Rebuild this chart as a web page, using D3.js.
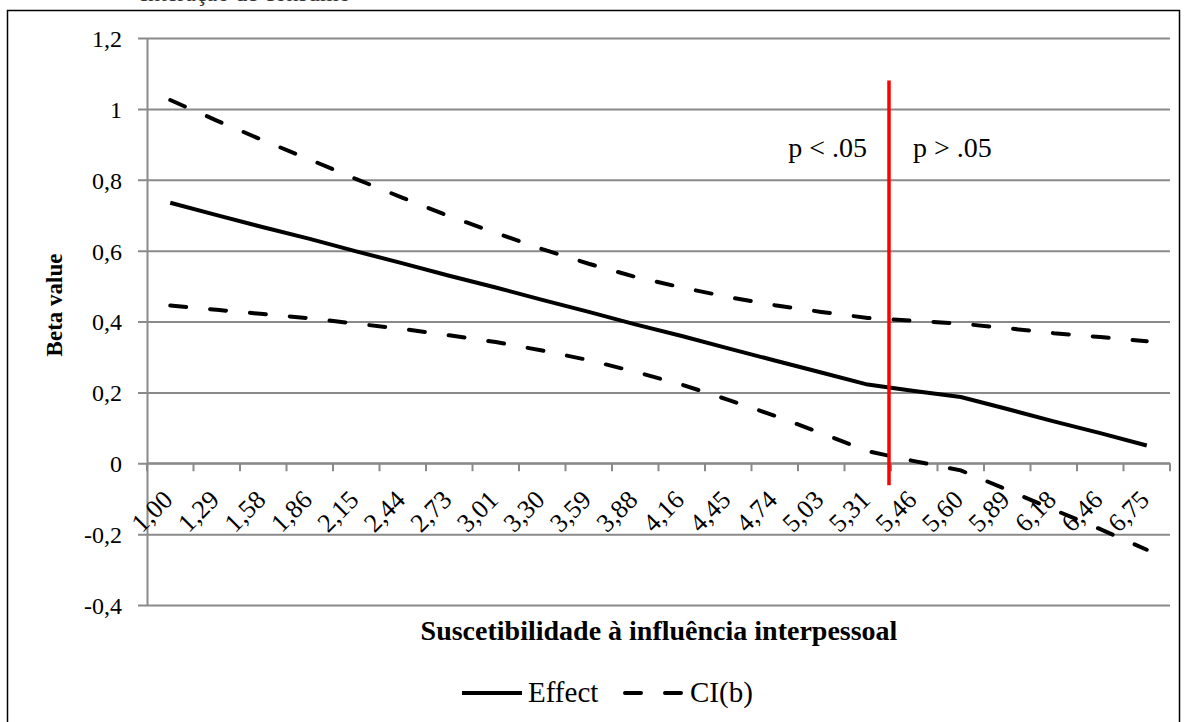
<!DOCTYPE html>
<meta charset="utf-8">
<script src="https://d3js.org/d3.v7.min.js"></script>
<style>
  body { margin: 0; background: #fff; }
  text { font-family: "Liberation Serif", "Times New Roman", serif; }
</style>
<div id="chart"></div>
<script>
// data
var categories = ["1,00","1,29","1,58","1,86","2,15","2,44","2,73","3,01","3,30","3,59","3,88",
                  "4,16","4,45","4,74","5,03","5,31","5,46","5,60","5,89","6,18","6,46","6,75"];
var effect  = [0.735,0.700,0.666,0.633,0.598,0.564,0.529,0.496,0.461,0.427,0.392,
               0.359,0.324,0.290,0.256,0.222,0.204,0.187,0.153,0.118,0.085,0.050];
var ciUpper = [1.025,0.967,0.911,0.857,0.802,0.749,0.697,0.650,0.604,0.563,0.526,
               0.496,0.469,0.446,0.427,0.410,0.402,0.394,0.381,0.367,0.356,0.344];
var ciLower = [0.445,0.433,0.421,0.409,0.394,0.379,0.361,0.342,0.318,0.291,0.258,
               0.222,0.179,0.134,0.085,0.034,0.006,-0.020,-0.075,-0.131,-0.186,-0.244];
var yTicks = [-0.4,-0.2,0,0.2,0.4,0.6,0.8,1,1.2];
var cutCategory = "5,46";          // red line sits at the start of this category
var cutRange = [1.08, -0.062];

var W = 1187, H = 722;
var margin = {top: 38, left: 147, right: 17, bottom: 117};

var svg = d3.select("#chart").append("svg")
    .attr("width", W).attr("height", H);

// outer frame
svg.append("rect")
    .attr("x", 7.5).attr("y", 10.5)
    .attr("width", 1172).attr("height", 730)
    .attr("fill", "none").attr("stroke", "#000").attr("stroke-width", 1.5);

// caption cut off at the top
svg.append("text")
    .attr("x", 140).attr("y", 1)
    .attr("font-size", 24).attr("fill", "#333")
    .text("Interação de consumo");

var x = d3.scaleBand()
    .domain(categories)
    .range([margin.left, W - margin.right])
    .padding(0);

var y = d3.scaleLinear()
    .domain([-0.4, 1.2])
    .range([H - margin.bottom, margin.top]);

var fmt = function(d) { return String(+d.toFixed(1)).replace(".", ","); };

// gridlines + y axis
svg.append("g")
    .attr("transform", "translate(" + margin.left + ",0)")
    .call(d3.axisLeft(y).tickValues(yTicks).tickSize(-(W - margin.right - margin.left)).tickSizeOuter(0).tickFormat(fmt))
    .call(function(g) {
      g.select(".domain").attr("stroke", "#8a8a8a").attr("stroke-width", 2);
      g.selectAll(".tick line").attr("stroke", "#8a8a8a").attr("stroke-width", 2)
        .attr("x1", -9);
      g.selectAll(".tick text")
        .attr("x", -25).attr("dy", "0.35em")
        .attr("font-size", 24).attr("fill", "#000")
        .style("font-family", "Liberation Serif");
    });

// x axis at 0
var xAxis = svg.append("g")
    .attr("transform", "translate(0," + y(0) + ")");
xAxis.append("line")
    .attr("x1", margin.left).attr("x2", W - margin.right)
    .attr("stroke", "#8a8a8a").attr("stroke-width", 2);
var bounds = categories.map(function(c) { return x(c); }).concat([x.range()[1]]);
xAxis.selectAll(".xt").data(bounds).enter().append("line")
    .attr("x1", function(d) { return d; }).attr("x2", function(d) { return d; })
    .attr("y1", 0).attr("y2", 8)
    .attr("stroke", "#8a8a8a").attr("stroke-width", 2);
xAxis.selectAll(".xl").data(categories).enter().append("text")
    .attr("transform", function(d) {
      return "translate(" + (x(d) + x.bandwidth() / 2 + 4) + ",38)rotate(-45)";
    })
    .attr("text-anchor", "end")
    .attr("font-size", 26)
    .text(function(d) { return d; });

// lines
var line = d3.line()
    .x(function(d, i) { return x(categories[i]) + x.bandwidth() / 2; })
    .y(function(d) { return y(d); });

svg.append("path").datum(ciUpper)
    .attr("d", line).attr("fill", "none").attr("stroke", "#000")
    .attr("stroke-width", 4).attr("stroke-dasharray", "16,24").attr("stroke-linecap", "round");
svg.append("path").datum(ciLower)
    .attr("d", line).attr("fill", "none").attr("stroke", "#000")
    .attr("stroke-width", 4).attr("stroke-dasharray", "16,24").attr("stroke-linecap", "round");
svg.append("path").datum(effect)
    .attr("d", line).attr("fill", "none").attr("stroke", "#000")
    .attr("stroke-width", 4).attr("stroke-linejoin", "round");

// significance cut
svg.append("line")
    .attr("x1", x(cutCategory) - 2).attr("x2", x(cutCategory) - 2)
    .attr("y1", y(cutRange[0])).attr("y2", y(cutRange[1]))
    .attr("stroke", "#ff0000").attr("stroke-width", 3.5);

svg.append("text")
    .attr("x", x(cutCategory) - 24).attr("y", 157)
    .attr("text-anchor", "end").attr("font-size", 28)
    .text("p < .05");
svg.append("text")
    .attr("x", x(cutCategory) + 22).attr("y", 157)
    .attr("text-anchor", "start").attr("font-size", 28)
    .text("p > .05");

// axis titles
svg.append("text")
    .attr("transform", "translate(62,305)rotate(-90)")
    .attr("text-anchor", "middle")
    .attr("font-size", 23).attr("font-weight", "bold")
    .text("Beta value");

svg.append("text")
    .attr("x", 659).attr("y", 640)
    .attr("text-anchor", "middle")
    .attr("font-size", 28).attr("font-weight", "bold")
    .text("Suscetibilidade à influência interpessoal");

// legend
var lg = svg.append("g").attr("transform", "translate(0,693)");
lg.append("line").attr("x1", 462).attr("x2", 522)
    .attr("stroke", "#000").attr("stroke-width", 4);
lg.append("text").attr("x", 528).attr("y", 9).attr("font-size", 29).text("Effect");
lg.append("line").attr("x1", 625).attr("x2", 683)
    .attr("stroke", "#000").attr("stroke-width", 4)
    .attr("stroke-dasharray", "16,24").attr("stroke-linecap", "round");
lg.append("text").attr("x", 690).attr("y", 9).attr("font-size", 29).text("CI(b)");
</script>
